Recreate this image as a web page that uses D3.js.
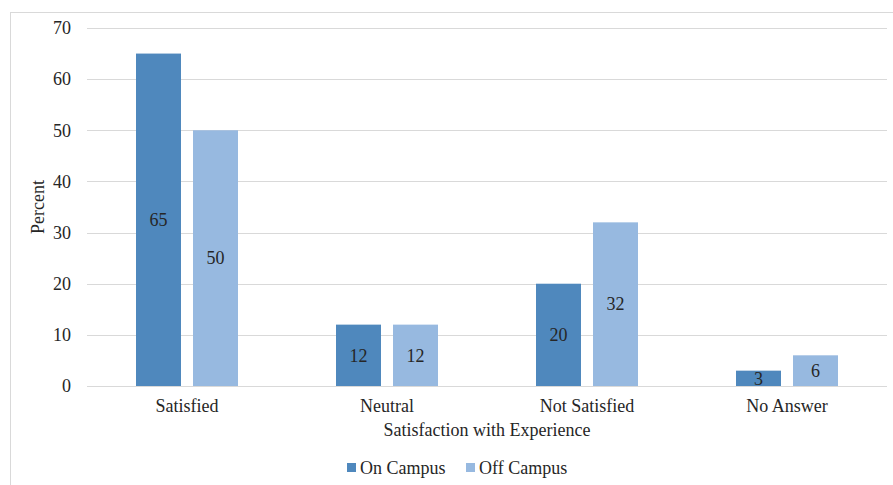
<!DOCTYPE html>
<html>
<head>
<meta charset="utf-8">
<script src="https://cdn.jsdelivr.net/npm/d3@7/dist/d3.min.js"></script>
<style>
  html, body { margin: 0; padding: 0; background: #fff; }
  svg { display: block; }
  svg text { font-family: "Liberation Serif", "Times New Roman"; fill: #262626; }
</style>
</head>
<body>
<svg id="chart" width="893" height="485"></svg>
<script>
// Survey responses: share of students by satisfaction level
const categories = ["Satisfied", "Neutral", "Not Satisfied", "No Answer"];
const seriesNames = ["On Campus", "Off Campus"];
const onCampus = [65, 12, 20, 3];
const offCampus = [50, 12, 32, 6];
const yTicks = [0, 10, 20, 30, 40, 50, 60, 70];
const colors = ["#4f88bd", "#97b9e0"];

const FONT = '"Liberation Serif", "Times New Roman"';
const FS = "18px";

const svg = d3.select("#chart");
const W = 893, H = 485;
const margin = { left: 87, right: 6, top: 28, bottom: 99 };

// Outer chart-area frame
svg.append("rect")
  .attr("x", 10.5).attr("y", 12.5)
  .attr("width", W + 20).attr("height", H + 20)
  .attr("fill", "none").attr("stroke", "#d9d9d9").attr("stroke-width", 1);

const x = d3.scaleBand()
  .domain(categories)
  .range([margin.left, W - margin.right]);

const y = d3.scaleLinear()
  .domain([0, 70])
  .range([H - margin.bottom, margin.top]);

// Gridlines
svg.append("g")
  .selectAll("line")
  .data(yTicks)
  .join("line")
  .attr("x1", margin.left).attr("x2", W - margin.right)
  .attr("y1", d => Math.round(y(d)) + 0.5).attr("y2", d => Math.round(y(d)) + 0.5)
  .attr("stroke", "#d9d9d9").attr("stroke-width", 1.2);

// Y axis labels
const yAxis = d3.axisLeft(y).tickValues(yTicks).tickSize(0).tickPadding(16);
const gy = svg.append("g").attr("transform", `translate(${margin.left},0)`).call(yAxis)
  .attr("font-family", null).attr("font-size", null);
gy.select(".domain").remove();
gy.selectAll("text")
  .style("font-family", FONT)
  .style("font-size", FS).attr("fill", "#262626");

// X axis labels
const xAxis = d3.axisBottom(x).tickSize(0).tickPadding(13);
const gx = svg.append("g").attr("transform", `translate(0,${y(0)})`).call(xAxis)
  .attr("font-family", null).attr("font-size", null);
gx.select(".domain").remove();
gx.selectAll("text")
  .style("font-family", FONT)
  .style("font-size", FS).attr("fill", "#262626");

// Bars
const barW = 45, gap = 12;
const groupOffset = (x.bandwidth() - (barW * 2 + gap)) / 2;

const rows = categories.map((c, i) => ({
  category: c,
  values: [
    { series: seriesNames[0], value: onCampus[i], idx: 0 },
    { series: seriesNames[1], value: offCampus[i], idx: 1 }
  ]
}));

const groups = svg.append("g").selectAll("g")
  .data(rows)
  .join("g")
  .attr("transform", d => `translate(${x(d.category) + groupOffset},0)`);

groups.selectAll("rect")
  .data(d => d.values)
  .join("rect")
  .attr("x", d => d.idx * (barW + gap))
  .attr("width", barW)
  .attr("y", d => y(d.value))
  .attr("height", d => y(0) - y(d.value))
  .attr("fill", d => colors[d.idx]);

groups.selectAll("text.val")
  .data(d => d.values)
  .join("text")
  .attr("class", "val")
  .attr("x", d => d.idx * (barW + gap) + barW / 2)
  .attr("y", d => (y(d.value) + y(0)) / 2)
  .attr("dy", "0.35em")
  .attr("text-anchor", "middle")
  .style("font-family", FONT)
  .style("font-size", FS)
  .text(d => d.value);

// Axis titles
svg.append("text")
  .attr("x", (margin.left + W - margin.right) / 2)
  .attr("y", 436)
  .attr("text-anchor", "middle")
  .style("font-family", FONT)
  .style("font-size", FS)
  .text("Satisfaction with Experience");

svg.append("text")
  .attr("transform", `translate(44,${(y(0) + y(70)) / 2}) rotate(-90)`)
  .attr("text-anchor", "middle")
  .style("font-family", FONT)
  .style("font-size", FS)
  .text("Percent");

// Legend
const legendItems = [
  { name: seriesNames[0], color: colors[0], x: 347 },
  { name: seriesNames[1], color: colors[1], x: 466 }
];
const lg = svg.append("g").selectAll("g").data(legendItems).join("g")
  .attr("transform", d => `translate(${d.x},463)`);
lg.append("rect").attr("width", 9).attr("height", 9).attr("fill", d => d.color);
lg.append("text").attr("x", 13).attr("y", 11)
  .style("font-family", FONT)
  .style("font-size", FS).text(d => d.name);
</script>
</body>
</html>
